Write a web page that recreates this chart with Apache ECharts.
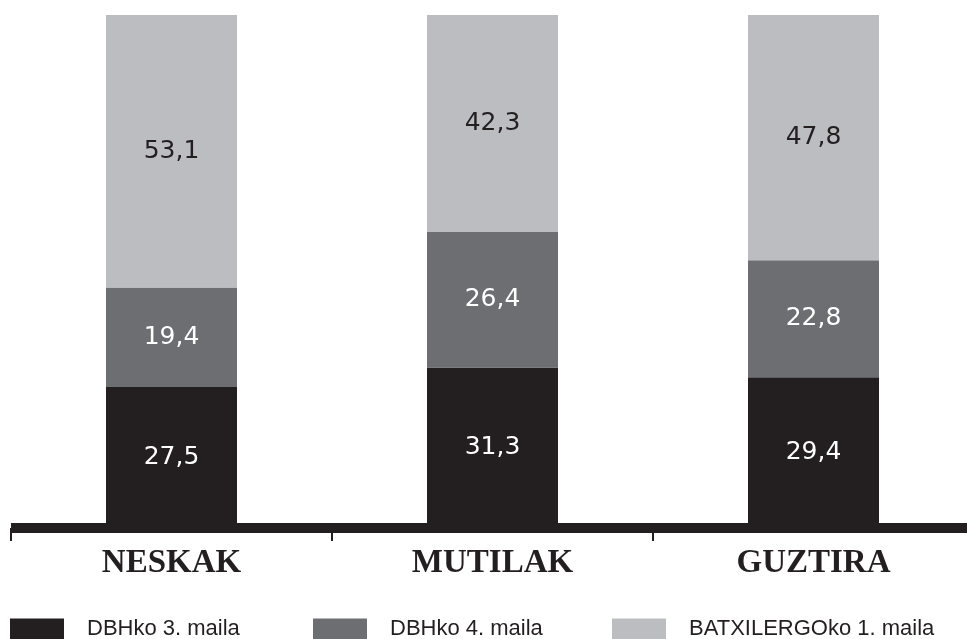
<!DOCTYPE html>
<html>
<head>
<meta charset="utf-8">
<script src="https://cdn.jsdelivr.net/npm/echarts@6/dist/echarts.min.js"></script>
<style>html,body{margin:0;padding:0;background:#fff;}#c{width:967px;height:639px;}</style>
</head>
<body>
<div id="c"></div>
<script>
const categories = ['NESKAK', 'MUTILAK', 'GUZTIRA'];
const seriesNames = ['DBHko 3. maila', 'DBHko 4. maila', 'BATXILERGOko 1. maila'];
const dbh3 = [27.5, 31.3, 29.4];
const dbh4 = [19.4, 26.4, 22.8];
const batx1 = [53.1, 42.3, 47.8];
const colors = ['#231f20', '#6d6e71', '#bcbdc0'];
const labelColors = ['#ffffff', '#ffffff', '#231f20'];
const values = [dbh3, dbh4, batx1];

const chart = echarts.init(document.getElementById('c'), null, {renderer: 'canvas'});
const legendLefts = [10, 313, 612];
const option = {
  animation: false,
  grid: {left: 11, right: -7, top: 15, bottom: 111, containLabel: false, outerBoundsMode: 'none'},
  legend: seriesNames.map((n, i) => ({
    data: [n], left: legendLefts[i], top: 618, itemWidth: 54, itemHeight: 21, icon: 'rect',
    padding: 0, itemGap: 0, selectedMode: false,
    textStyle: {fontFamily: 'Liberation Sans', fontSize: 22, color: '#231f20', padding: [0, 0, 0, 18]}
  })),
  xAxis: {
    type: 'category', data: categories, boundaryGap: true,
    axisLine: {show: true, lineStyle: {color: '#231f20', width: 10, cap: 'butt'}},
    axisTick: {show: true, alignWithLabel: false, length: 13, lineStyle: {color: '#231f20', width: 2, cap: 'butt'}},
    axisLabel: {fontFamily: 'Liberation Serif', fontWeight: 'bold', fontSize: 33, color: '#231f20', margin: 19}
  },
  yAxis: {type: 'value', min: 0, max: 100, show: false, splitLine: {show: false}},
  series: values.map((v, i) => ({
    name: seriesNames[i], type: 'bar', stack: 'total', data: v, barWidth: 131,
    itemStyle: {color: colors[i]},
    label: {show: true, position: 'inside', fontFamily: 'DejaVu Sans', fontSize: 25, color: labelColors[i],
      formatter: p => String(p.value).replace('.', ',')}
  }))
};
chart.setOption(option);
</script>
</body>
</html>
